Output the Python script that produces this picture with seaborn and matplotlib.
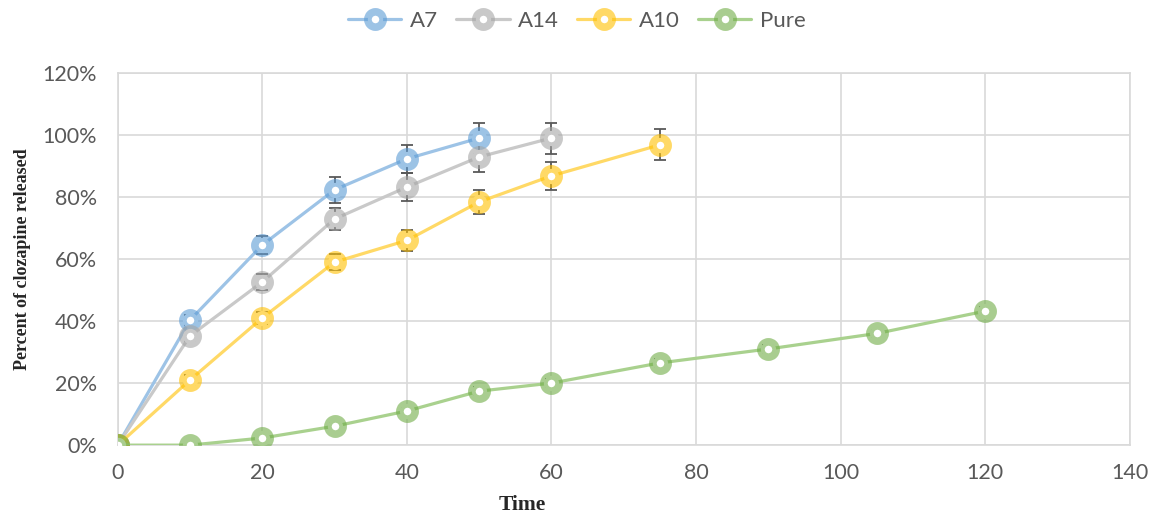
#Import Libraries
import pandas as pd
import numpy as np
import matplotlib.pyplot as plt
import matplotlib.colors as mcolors
import seaborn as sns

#Adjustments
sns.set_style("white")
plt.rcParams['font.family'] = ['Lato', 'DejaVu Sans']

#Data
time_a7 = [0, 10, 20, 30, 40, 50]
a7 = [0, 40.3, 64.5, 82.3, 92.3, 99.0]
a7_err = [0.5, 1.5, 3.0, 4.2, 4.5, 5.0]

time_a14 = [0, 10, 20, 30, 40, 50, 60]
a14 = [0, 35.2, 52.6, 72.9, 83.2, 92.9, 99.0]
a14_err = [0.5, 1.5, 2.5, 3.7, 4.5, 5.0, 5.0]

time_a10 = [0, 10, 20, 30, 40, 50, 60, 75]
a10 = [0, 21.0, 41.0, 59.0, 66.0, 78.4, 86.8, 96.8]
a10_err = [0.5, 1.5, 2.0, 2.5, 3.5, 4.0, 4.5, 5.0]

time_pure = [0, 10, 20, 30, 40, 50, 60, 75, 90, 105, 120]
pure = [0, 0, 2.3, 6.1, 11.0, 17.4, 20.0, 26.5, 31.0, 36.0, 43.2]
pure_err = [0.3, 0.5, 0.8, 1.0, 1.0, 1.2, 1.2, 1.2, 1.2, 1.2, 1.2]

series = [
    ("A7", time_a7, a7, a7_err, "#9DC3E6", "#5B9BD5"),
    ("A14", time_a14, a14, a14_err, "#C9C9C9", "#A5A5A5"),
    ("A10", time_a10, a10, a10_err, "#FFD966", "#FFC000"),
    ("Pure", time_pure, pure, pure_err, "#A9D18E", "#70AD47"),
]

#Plot
fig = plt.figure(figsize=(11.54, 5.17), dpi=100)
ax = fig.add_axes([0.102, 0.139, 0.877, 0.720])

for name, t, v, err, line_col, mark_col in series:
    df = pd.DataFrame({"Time": t, "Released": v})
    edge = mcolors.to_rgba(mark_col, 0.6)
    ax.errorbar(t, v, yerr=err, fmt="none", ecolor="#595959",
                elinewidth=1.3, capsize=4.5, capthick=1.3, zorder=2.5)
    sns.lineplot(data=df, x="Time", y="Released", ax=ax, color=line_col,
                 linewidth=2.3, marker="o", markersize=11, markeredgewidth=5.5,
                 markerfacecolor="white", markeredgecolor=edge, label=name,
                 zorder=3)

ax.set_xlim(0, 140)
ax.set_ylim(0, 120)
ax.set_xticks(np.arange(0, 141, 20))
ax.set_yticks(np.arange(0, 121, 20))
ax.set_yticklabels([f"{v}%" for v in range(0, 121, 20)])
ax.tick_params(labelsize=15.5, colors="#595959", length=0)
ax.tick_params(axis="y", pad=15)
ax.tick_params(axis="x", pad=13)
ax.grid(True, color="#D9D9D9", linewidth=1.2)
ax.set_axisbelow(True)
for s in ax.spines.values():
    s.set_color("#D9D9D9")
    s.set_linewidth(1.2)

ax.set_xlabel("Time", fontsize=15.5, fontweight="bold", family="Liberation Serif")
ax.xaxis.set_label_coords(0.4, -0.133)
ax.set_ylabel("Percent of clozapine released", fontsize=13, fontweight="bold",
              family="Liberation Serif")
ax.yaxis.set_label_coords(-0.086, 0.5)

handles, labels = ax.get_legend_handles_labels()
ax.get_legend().remove()
fig.legend(handles, labels, loc="upper center", bbox_to_anchor=(0.5, 1.017),
           ncol=4, frameon=False, fontsize=16, labelcolor="#595959",
           handlelength=2.4, columnspacing=0.8, handletextpad=0.4)

plt.savefig("out.png", dpi=100)
